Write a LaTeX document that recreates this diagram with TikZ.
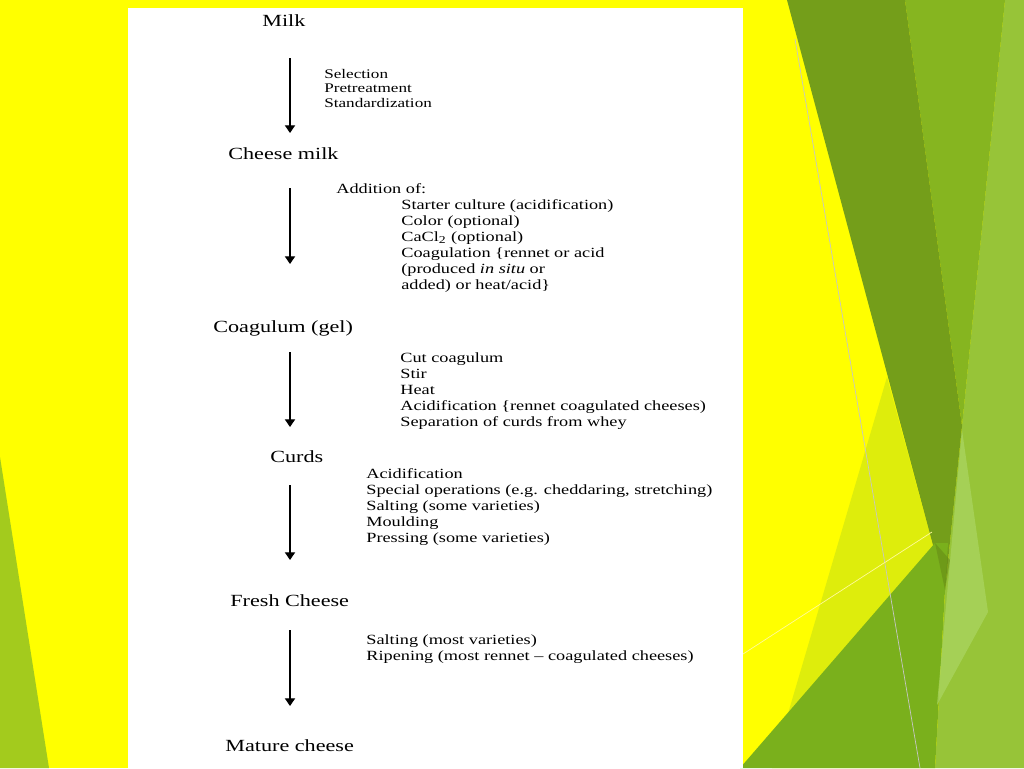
\documentclass[tikz,border=0pt]{standalone}
\usepackage{fontspec}
\setmainfont[FakeStretch=1.3]{Liberation Serif}
\usetikzlibrary{arrows.meta,positioning,calc}
\definecolor{slideyellow}{RGB}{255,255,0}
\definecolor{facetolive}{RGB}{116,158,26}
\definecolor{facetmid}{RGB}{134,181,32}
\definecolor{facetlight}{RGB}{151,196,56}
\definecolor{facetpale}{RGB}{172,214,100}
\definecolor{facetgreen}{RGB}{122,176,28}
\definecolor{facetlime}{RGB}{222,237,12}
\definecolor{facetleft}{RGB}{163,203,29}
\newcommand{\pxl}{0.02cm}

\begin{document}
\begin{tikzpicture}[x=0.02cm,y=-0.02cm,
  stage/.style={inner sep=0pt,anchor=base west,font=\fontsize{9.7}{11}\selectfont},
  steplist/.style={inner sep=0pt,anchor=base west,align=left,font=\fontsize{8}{9.1}\selectfont},
  flowarrow/.style={-{Triangle[width=5.8pt,length=4.4pt]},line width=0.75pt}]
  \useasboundingbox (0,0) rectangle (1024,768);
  % slide background
  \fill[slideyellow] (0,0) rectangle (1024,768);
  \fill[facetleft] (0,457) -- (49,768) -- (0,768) -- cycle;
  \fill[facetlight] (1005,0) -- (1024,0) -- (1024,768) -- (935,768) -- (945,590) -- (962,426) -- cycle;
  \fill[facetmid] (905,0) -- (1005,0) -- (962,426) -- cycle;
  \fill[facetlime] (887,377) -- (945,590) -- (935,768) -- (772,768) -- cycle;
  \fill[facetolive] (787,0) -- (905,0) -- (962,426) -- (945,590) -- cycle;
  \fill[facetgreen] (740,768) -- (935,543) -- (948,543) -- (945,590) -- (935,768) -- cycle;
  \fill[facetolive!85!black,opacity=0.5] (935,543) -- (950,560) -- (945,590) -- cycle;
  \fill[facetpale,opacity=0.7] (962,430) -- (988,612) -- (937,705) -- cycle;
  \draw[gray!45,line width=0.4pt] (795,39) -- (920,768);
  \draw[yellow!40!white,line width=0.4pt] (743,654) -- (932,532);
  \fill[white] (128,8) rectangle (743,768);

  % stages
  \node[stage] (milk) at (262,26) {Milk};
  \node[stage] (cheesemilk) at (228,159) {Cheese milk};
  \node[stage] (coagulum) at (213,332) {Coagulum (gel)};
  \node[stage] (curds) at (270,462) {Curds};
  \node[stage] (freshcheese) at (230,606) {Fresh Cheese};
  \node[stage] (maturecheese) at (225,751) {Mature cheese};

  % operations (base = last line)
  \node[steplist,font=\fontsize{7.5}{8}\selectfont] (pretreat) at (324,107) {Selection\\Pretreatment\\Standardization};
  \node[steplist] (addition) at (336,193) {Addition of:};
  \node[steplist] (addlist) at (401,289) {Starter culture (acidification)\\Color (optional)\\CaCl\textsubscript{2} (optional)\\Coagulation \{rennet or acid\\(produced \textit{in situ} or\\added) or heat/acid\}};
  \node[steplist] (cutlist) at (400,426) {Cut coagulum\\Stir\\Heat\\Acidification \{rennet coagulated cheeses)\\Separation of curds from whey};
  \node[steplist] (curdlist) at (366,542) {Acidification\\Special operations (e.g. cheddaring, stretching)\\Salting (some varieties)\\Moulding\\Pressing (some varieties)};
  \node[steplist] (ripenlist) at (366,660) {Salting (most varieties)\\Ripening (most rennet -- coagulated cheeses)};

  % arrows
  \coordinate (colx) at (290,0);
  \foreach \a/\b/\s/\e in {milk/cheesemilk/32/26,cheesemilk/coagulum/29/68,coagulum/curds/20/35,curds/freshcheese/23/46,freshcheese/maturecheese/24/45}
    {\draw[flowarrow,shorten <=\s*\pxl,shorten >=\e*\pxl] (\a.base -| colx) -- (\b.base -| colx);}
\end{tikzpicture}
\end{document}
